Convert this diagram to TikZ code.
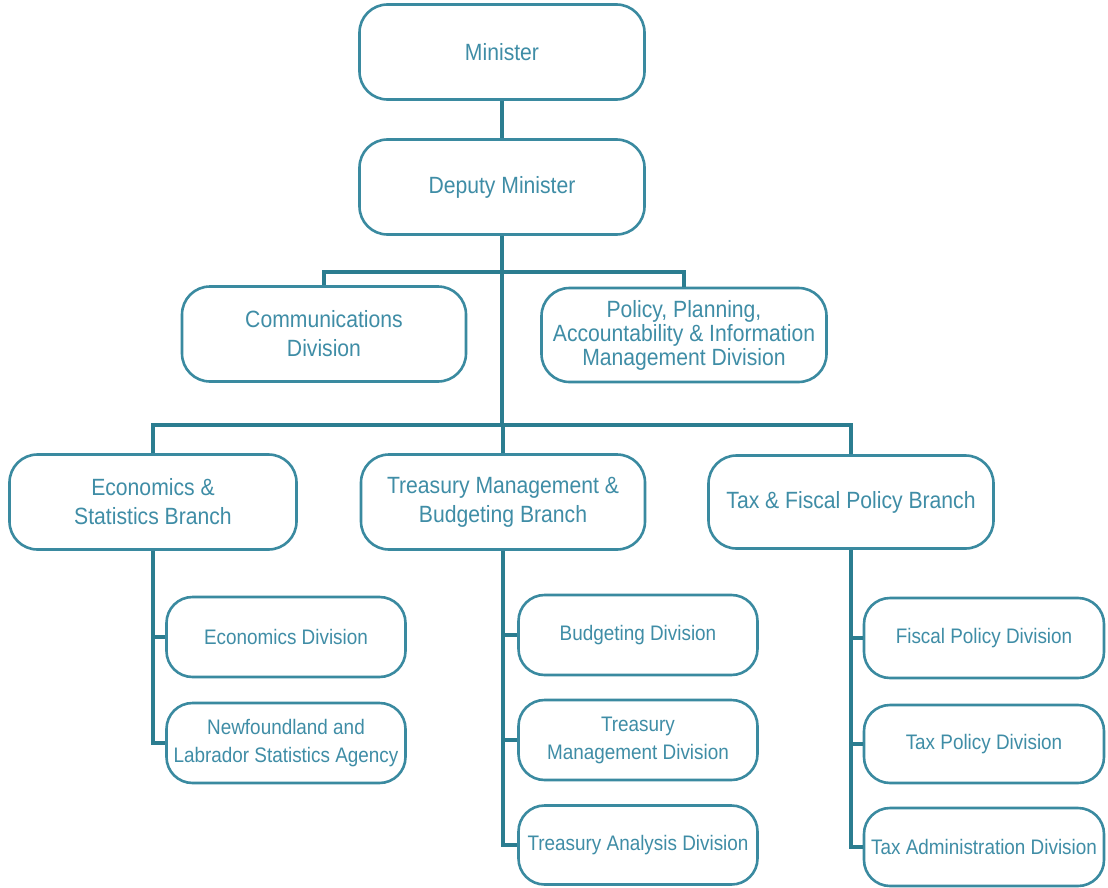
\documentclass[tikz,border=0pt]{standalone}
\usepackage{fontspec}
\setmainfont{Liberation Sans}[FakeStretch=0.9]
\definecolor{bordc}{HTML}{3A8AA0}
\definecolor{connc}{HTML}{2B7D90}
\definecolor{textc}{HTML}{3F8DA6}
\begin{document}
\begin{tikzpicture}[x=1pt,y=-1pt,
  box/.style={draw=bordc, line width=2.6pt, rounded corners=28pt, align=center,
    text=textc, inner sep=0pt, fill=white},
  big/.style={box, font=\fontsize{23.5}{29}\selectfont},
  small/.style={box, font=\fontsize{21}{28}\selectfont, rounded corners=26pt},
  conn/.style={draw=connc, line width=4.5pt}]
\useasboundingbox (0,0) rectangle (1108,888);
\fill[white] (0,0) rectangle (1108,888);
% nodes
\node[big, minimum width=285pt, minimum height=95pt] (min) at (502,52) {Minister};
\node[big, minimum width=285pt, minimum height=95pt] (dep) at (502,187) {Deputy Minister};
\node[big, minimum width=284pt, minimum height=95pt] (comm) at (324,334) {Communications\\Division};
\node[big, minimum width=285pt, minimum height=94pt, font=\fontsize{23.5}{24}\selectfont] (pol) at (684,335) {Policy, Planning,\\Accountability \& Information\\Management Division};
\node[big, minimum width=287pt, minimum height=95pt] (econ) at (153,502) {Economics \&\\Statistics Branch};
\node[big, minimum width=284pt, minimum height=95pt] (treas) at (503,502) {Treasury Management \&\\Budgeting Branch};
\node[big, minimum width=285pt, minimum height=93pt] (tax) at (851,502) {Tax \& Fiscal Policy Branch};
\node[small, minimum width=239pt, minimum height=80pt] (ecd) at (286,637) {Economics Division};
\node[small, minimum width=239pt, minimum height=80pt] (nfl) at (286,743) {Newfoundland and\\Labrador Statistics Agency};
\node[small, minimum width=239pt, minimum height=80pt] (bud) at (638,635) {Budgeting Division};
\node[small, minimum width=239pt, minimum height=80pt] (tmd) at (638,740) {Treasury\\Management Division};
\node[small, minimum width=239pt, minimum height=79pt] (tad) at (638,845) {Treasury Analysis Division};
\node[small, minimum width=240pt, minimum height=80pt] (fpd) at (984,638) {Fiscal Policy Division};
\node[small, minimum width=240pt, minimum height=78pt] (tpd) at (984,744) {Tax Policy Division};
\node[small, minimum width=240pt, minimum height=78pt] (tadm) at (984,847) {Tax Administration Division};
% junctions
\coordinate (j1) at (502,272);
\coordinate (j2) at (502,425);
% connectors
\draw[conn] (min) -- (dep);
\draw[conn] (dep) -- (j2);
\draw[conn] (comm.north) |- (j1) -| (pol.north);
\draw[conn] (econ.north) |- (j2) -| (tax.north);
\draw[conn] (treas.north) -- (treas.north |- j2);
\draw[conn] (econ.south) |- (nfl.west);
\draw[conn] (econ.south |- ecd.west) -- (ecd.west);
\draw[conn] (treas.south) |- (tad.west);
\draw[conn] (treas.south |- bud.west) -- (bud.west);
\draw[conn] (treas.south |- tmd.west) -- (tmd.west);
\draw[conn] (tax.south) |- (tadm.west);
\draw[conn] (tax.south |- fpd.west) -- (fpd.west);
\draw[conn] (tax.south |- tpd.west) -- (tpd.west);
\end{tikzpicture}
\end{document}
